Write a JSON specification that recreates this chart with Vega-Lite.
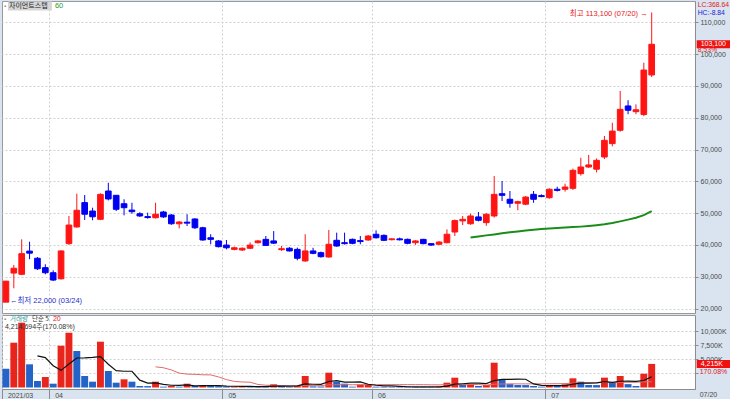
{
"$schema": "https://vega.github.io/schema/vega-lite/v6.json",
"padding": {"left": 1, "top": 0, "right": 0, "bottom": 0},
"background": "#d9e4f0",
"bounds": "flush",
"spacing": 2,
"config": {
  "view": {"fill": "#ffffff", "stroke": "#9a9a9a"},
  "axis": {"labelFont": "Liberation Sans", "labelFontSize": 7, "labelColor": "#4a4a4a", "gridColor": "#d0d0d0", "gridDash": [2, 2], "tickColor": "#8c8c8c", "domainColor": "#8c8c8c"}
},
"datasets": {"k": [
{"d":"2021-03-24","o":22000,"h":28600,"l":22000,"c":28600,"v":3360,"vc":"d"},
{"d":"2021-03-25","o":31150,"h":33700,"l":26350,"c":32650,"v":8000,"vc":"u"},
{"d":"2021-03-26","o":30750,"h":41750,"l":30500,"c":37250,"v":11570,"vc":"u"},
{"d":"2021-03-29","o":38050,"h":41000,"l":35500,"c":37400,"v":4140,"vc":"d"},
{"d":"2021-03-30","o":35800,"h":36200,"l":32100,"c":32500,"v":1160,"vc":"d","m5":5646},
{"d":"2021-03-31","o":32850,"h":33900,"l":30750,"c":31250,"v":1875,"vc":"u","m5":5349},
{"d":"2021-04-01","o":31250,"h":32000,"l":28650,"c":28950,"v":680,"vc":"d","m5":3885},
{"d":"2021-04-02","o":29350,"h":38300,"l":29100,"c":38100,"v":7460,"vc":"u","m5":3063},
{"d":"2021-04-05","o":40400,"h":49100,"l":40000,"c":46250,"v":9790,"vc":"u","m5":4193},
{"d":"2021-04-06","o":45650,"h":56100,"l":45400,"c":50900,"v":6520,"vc":"d","m5":5265},
{"d":"2021-04-07","o":53300,"h":55700,"l":47850,"c":49650,"v":2050,"vc":"d","m5":5300},
{"d":"2021-04-08","o":50650,"h":51700,"l":47750,"c":48850,"v":1040,"vc":"d","m5":5372},
{"d":"2021-04-09","o":48050,"h":56200,"l":47800,"c":55900,"v":8180,"vc":"u","m5":5516},
{"d":"2021-04-12","o":56950,"h":59550,"l":54000,"c":54450,"v":2950,"vc":"d","m5":4148},
{"d":"2021-04-13","o":55600,"h":55700,"l":50650,"c":51200,"v":860,"vc":"d","m5":3016},
{"d":"2021-04-14","o":52950,"h":54350,"l":49300,"c":51700,"v":1460,"vc":"u","m5":2898},
{"d":"2021-04-15","o":50950,"h":53250,"l":49800,"c":50450,"v":1040,"vc":"d","m5":2898},
{"d":"2021-04-16","o":49800,"h":50300,"l":48800,"c":49100,"v":270,"vc":"d","m5":1316},
{"d":"2021-04-19","o":48900,"h":50150,"l":48250,"c":48600,"v":250,"vc":"d","m5":776},
{"d":"2021-04-20","o":48550,"h":53250,"l":48300,"c":49650,"v":1040,"vc":"u","m5":816,"m20":3686},
{"d":"2021-04-21","o":50350,"h":50700,"l":48500,"c":48800,"v":150,"vc":"d","m5":550,"m20":3525},
{"d":"2021-04-22","o":49400,"h":49700,"l":46300,"c":46650,"v":270,"vc":"u","m5":400,"m20":3139},
{"d":"2021-04-23","o":46650,"h":47500,"l":45200,"c":47200,"v":150,"vc":"d","m5":376,"m20":2568},
{"d":"2021-04-26","o":47150,"h":49650,"l":45950,"c":46850,"v":680,"vc":"u","m5":458,"m20":2395},
{"d":"2021-04-27","o":48150,"h":48400,"l":45000,"c":45400,"v":270,"vc":"d","m5":304,"m20":2350},
{"d":"2021-04-28","o":45400,"h":45700,"l":41300,"c":41550,"v":300,"vc":"u","m5":334,"m20":2270},
{"d":"2021-04-29","o":42250,"h":43350,"l":40200,"c":41750,"v":270,"vc":"d","m5":334,"m20":2250},
{"d":"2021-04-30","o":41250,"h":41500,"l":39200,"c":39450,"v":240,"vc":"d","m5":352,"m20":1889},
{"d":"2021-05-03","o":39950,"h":41550,"l":38600,"c":39100,"v":150,"vc":"d","m5":246,"m20":1407},
{"d":"2021-05-04","o":38600,"h":39450,"l":38300,"c":39100,"v":170,"vc":"u","m5":220,"m20":1086},
{"d":"2021-05-06","o":38400,"h":39200,"l":38100,"c":38950,"v":190,"vc":"u","m5":204,"m20":988},
{"d":"2021-05-07","o":38950,"h":40800,"l":38700,"c":39950,"v":170,"vc":"d","m5":186,"m20":944},
{"d":"2021-05-10","o":40700,"h":41500,"l":40400,"c":41250,"v":150,"vc":"d","m5":170,"m20":542},
{"d":"2021-05-11","o":41750,"h":42800,"l":39650,"c":39850,"v":140,"vc":"d","m5":156,"m20":407},
{"d":"2021-05-12","o":41250,"h":44350,"l":40300,"c":40550,"v":570,"vc":"u","m5":238,"m20":392},
{"d":"2021-05-13","o":38500,"h":39650,"l":38100,"c":38800,"v":270,"vc":"d","m5":260,"m20":333},
{"d":"2021-05-14","o":38950,"h":39300,"l":37900,"c":38100,"v":100,"vc":"d","m5":262,"m20":286},
{"d":"2021-05-17","o":38600,"h":39150,"l":35150,"c":35800,"v":270,"vc":"u","m5":286,"m20":286},
{"d":"2021-05-18","o":34950,"h":43350,"l":34700,"c":38100,"v":2050,"vc":"u","m5":652,"m20":375},
{"d":"2021-05-20","o":38100,"h":39100,"l":37050,"c":37350,"v":200,"vc":"d","m5":578,"m20":333},
{"d":"2021-05-21","o":37550,"h":37900,"l":36000,"c":36300,"v":180,"vc":"d","m5":560,"m20":335},
{"d":"2021-05-24","o":36200,"h":44700,"l":36000,"c":40200,"v":2640,"vc":"u","m5":1068,"m20":454},
{"d":"2021-05-25","o":41450,"h":43850,"l":39400,"c":39650,"v":1040,"vc":"d","m5":1222,"m20":498},
{"d":"2021-05-26","o":40700,"h":43850,"l":40100,"c":40400,"v":680,"vc":"d","m5":948,"m20":498},
{"d":"2021-05-27","o":41750,"h":42000,"l":40200,"c":40500,"v":150,"vc":"d","m5":942,"m20":492},
{"d":"2021-05-28","o":41350,"h":42800,"l":40200,"c":41050,"v":500,"vc":"u","m5":1002,"m20":504},
{"d":"2021-05-31","o":41550,"h":43100,"l":41300,"c":42800,"v":520,"vc":"u","m5":578,"m20":515},
{"d":"2021-06-01","o":43350,"h":44600,"l":42000,"c":42250,"v":150,"vc":"d","m5":400,"m20":511},
{"d":"2021-06-02","o":43000,"h":43300,"l":41200,"c":41450,"v":140,"vc":"d","m5":302,"m20":511},
{"d":"2021-06-03","o":41650,"h":42100,"l":41400,"c":41900,"v":130,"vc":"d","m5":288,"m20":513},
{"d":"2021-06-04","o":41900,"h":42300,"l":41400,"c":41600,"v":120,"vc":"d","m5":210,"m20":513},
{"d":"2021-06-07","o":41750,"h":42000,"l":40200,"c":40500,"v":110,"vc":"d","m5":130,"m20":511},
{"d":"2021-06-08","o":40700,"h":41500,"l":40000,"c":41250,"v":100,"vc":"d","m5":120,"m20":508},
{"d":"2021-06-09","o":41750,"h":41900,"l":40200,"c":40400,"v":95,"vc":"d","m5":111,"m20":501},
{"d":"2021-06-10","o":40400,"h":40600,"l":39700,"c":39950,"v":90,"vc":"d","m5":103,"m20":478},
{"d":"2021-06-11","o":40200,"h":41200,"l":40000,"c":40900,"v":150,"vc":"u","m5":113,"m20":472},
{"d":"2021-06-14","o":40700,"h":44900,"l":40500,"c":43350,"v":860,"vc":"u","m5":259,"m20":510},
{"d":"2021-06-15","o":44050,"h":48000,"l":42800,"c":47650,"v":1750,"vc":"u","m5":589,"m20":584},
{"d":"2021-06-16","o":47550,"h":49100,"l":46250,"c":48050,"v":500,"vc":"d","m5":670,"m20":506},
{"d":"2021-06-17","o":46650,"h":49800,"l":46300,"c":49100,"v":570,"vc":"u","m5":766,"m20":525,"m60":42300},
{"d":"2021-06-18","o":48800,"h":50350,"l":47400,"c":47750,"v":270,"vc":"d","m5":790,"m20":528,"m60":42650},
{"d":"2021-06-21","o":47000,"h":50000,"l":46000,"c":49650,"v":450,"vc":"u","m5":708,"m20":419,"m60":43000},
{"d":"2021-06-22","o":49100,"h":61650,"l":48600,"c":55900,"v":4430,"vc":"u","m5":1244,"m20":588,"m60":43300},
{"d":"2021-06-23","o":56100,"h":60100,"l":53800,"c":55600,"v":1460,"vc":"d","m5":1436,"m20":627,"m60":43650},
{"d":"2021-06-24","o":54350,"h":56950,"l":51700,"c":53100,"v":600,"vc":"d","m5":1442,"m20":650,"m60":44000},
{"d":"2021-06-25","o":53100,"h":53900,"l":50900,"c":53600,"v":450,"vc":"d","m5":1478,"m20":647,"m60":44250},
{"d":"2021-06-28","o":52800,"h":55400,"l":52500,"c":55050,"v":430,"vc":"d","m5":1474,"m20":645,"m60":44500},
{"d":"2021-06-29","o":55900,"h":56950,"l":53250,"c":54350,"v":270,"vc":"d","m5":642,"m20":651,"m60":44750},
{"d":"2021-06-30","o":55500,"h":55900,"l":55000,"c":55200,"v":150,"vc":"d","m5":380,"m20":651,"m60":45000},
{"d":"2021-07-01","o":54850,"h":57800,"l":54500,"c":57500,"v":450,"vc":"u","m5":350,"m20":666,"m60":45150},
{"d":"2021-07-02","o":57500,"h":58300,"l":56800,"c":57150,"v":270,"vc":"d","m5":318,"m20":674,"m60":45300},
{"d":"2021-07-05","o":57500,"h":59250,"l":56750,"c":58200,"v":570,"vc":"u","m5":342,"m20":698,"m60":45450},
{"d":"2021-07-06","o":57800,"h":64000,"l":57300,"c":63450,"v":1640,"vc":"u","m5":616,"m20":775,"m60":45600},
{"d":"2021-07-07","o":62400,"h":67400,"l":61800,"c":64500,"v":1040,"vc":"d","m5":794,"m20":822,"m60":45750},
{"d":"2021-07-08","o":64500,"h":68300,"l":64200,"c":65150,"v":450,"vc":"d","m5":794,"m20":839,"m60":45950},
{"d":"2021-07-09","o":63800,"h":67200,"l":62800,"c":66600,"v":430,"vc":"d","m5":826,"m20":854,"m60":46200},
{"d":"2021-07-12","o":67650,"h":74250,"l":67000,"c":72900,"v":1760,"vc":"u","m5":1064,"m20":899,"m60":46500},
{"d":"2021-07-13","o":71850,"h":78400,"l":71000,"c":75800,"v":860,"vc":"d","m5":912,"m20":855,"m60":46900},
{"d":"2021-07-14","o":76050,"h":88400,"l":75600,"c":82650,"v":2050,"vc":"u","m5":1114,"m20":932,"m60":47400},
{"d":"2021-07-15","o":83700,"h":85500,"l":81100,"c":82350,"v":600,"vc":"d","m5":1144,"m20":934,"m60":47950},
{"d":"2021-07-16","o":81900,"h":84200,"l":81100,"c":82500,"v":270,"vc":"d","m5":1108,"m20":934,"m60":48550},
{"d":"2021-07-19","o":81000,"h":97300,"l":80500,"c":95000,"v":2460,"vc":"u","m5":1248,"m20":1034,"m60":49350},
{"d":"2021-07-20","o":93450,"h":113100,"l":92800,"c":103100,"v":4215,"vc":"u","m5":1919,"m20":1023,"m60":50600},
{"d":"2021-07-21"},{"d":"2021-07-22"},{"d":"2021-07-23"},{"d":"2021-07-26"},{"d":"2021-07-27"}
]},
"vconcat": [
{
  "width": 693, "height": 312,
  "data": {"name": "k"},
  "layer": [
    {"mark": {"type": "rule", "opacity": 0},
     "encoding": {"x": {"field": "d", "type": "ordinal", "title": null, "scale": {"type": "band", "paddingInner": 0, "paddingOuter": 0},
        "axis": {"orient": "bottom", "values": ["2021-04-01", "2021-05-03", "2021-06-01", "2021-07-01"], "bandPosition": 0, "labels": false, "ticks": false, "domain": false, "grid": true}}}},
    {"mark": {"type": "rule", "strokeWidth": 1},
     "encoding": {
       "x": {"field": "d", "type": "ordinal", "title": null, "scale": {"type": "band", "paddingInner": 0, "paddingOuter": 0}},
       "y": {"field": "l", "type": "quantitative", "title": null, "scale": {"domain": [18585, 116710], "nice": false, "zero": false},
          "axis": {"orient": "right", "values": [20000, 30000, 40000, 50000, 60000, 70000, 80000, 90000, 100000, 110000], "labelExpr": "format(datum.value, ',')", "grid": true, "tickSize": 3, "labelPadding": 2, "labelOverlap": false}},
       "y2": {"field": "h"},
       "color": {"condition": {"test": "datum.c >= datum.o", "value": "#ff1414"}, "value": "#0000f0"}}},
    {"mark": {"type": "bar", "width": {"band": 0.72}, "strokeWidth": 1},
     "encoding": {
       "x": {"field": "d", "type": "ordinal", "title": null, "scale": {"type": "band", "paddingInner": 0, "paddingOuter": 0}},
       "y": {"field": "o", "type": "quantitative", "title": null, "scale": {"domain": [18585, 116710], "nice": false, "zero": false},
          "axis": {"orient": "right", "values": [20000, 30000, 40000, 50000, 60000, 70000, 80000, 90000, 100000, 110000], "labelExpr": "format(datum.value, ',')", "grid": true, "tickSize": 3, "labelPadding": 2, "labelOverlap": false}},
       "y2": {"field": "c"},
       "color": {"condition": {"test": "datum.c >= datum.o", "value": "#ff1414"}, "value": "#0000f0"},
       "stroke": {"condition": {"test": "datum.c >= datum.o", "value": "#ff1414"}, "value": "#0000f0"}}},
    {"mark": {"type": "line", "color": "#1a8c1a", "strokeWidth": 2},
     "encoding": {
       "x": {"field": "d", "type": "ordinal", "title": null, "scale": {"type": "band", "paddingInner": 0, "paddingOuter": 0}},
       "y": {"field": "m60", "type": "quantitative", "title": null, "scale": {"domain": [18585, 116710], "nice": false, "zero": false},
          "axis": {"orient": "right", "values": [20000, 30000, 40000, 50000, 60000, 70000, 80000, 90000, 100000, 110000], "labelExpr": "format(datum.value, ',')", "grid": true, "tickSize": 3, "labelPadding": 2, "labelOverlap": false}}}},
    {"data": {"values": [{"d": "2021-07-20", "p": 113100, "t": "최고 113,100 (07/20) →"}]},
     "mark": {"type": "text", "align": "right", "baseline": "middle", "dx": -4, "dy": 2, "fontSize": 7.5, "font": "Liberation Sans, Noto Sans CJK KR", "color": "#e8201a"},
     "encoding": {
       "x": {"field": "d", "type": "ordinal", "title": null, "scale": {"type": "band", "paddingInner": 0, "paddingOuter": 0}},
       "y": {"field": "p", "type": "quantitative", "title": null, "scale": {"domain": [18585, 116710], "nice": false, "zero": false},
          "axis": {"orient": "right", "values": [20000, 30000, 40000, 50000, 60000, 70000, 80000, 90000, 100000, 110000], "labelExpr": "format(datum.value, ',')", "grid": true, "tickSize": 3, "labelPadding": 2, "labelOverlap": false}},
       "text": {"field": "t"}}},
    {"data": {"values": [{"d": "2021-03-24", "p": 22000, "t": "←최저 22,000 (03/24)"}]},
     "mark": {"type": "text", "align": "left", "baseline": "middle", "dx": 4, "dy": -1, "fontSize": 7.5, "font": "Liberation Sans, Noto Sans CJK KR", "color": "#1f2fc8"},
     "encoding": {
       "x": {"field": "d", "type": "ordinal", "title": null, "scale": {"type": "band", "paddingInner": 0, "paddingOuter": 0}},
       "y": {"field": "p", "type": "quantitative", "title": null, "scale": {"domain": [18585, 116710], "nice": false, "zero": false},
          "axis": {"orient": "right", "values": [20000, 30000, 40000, 50000, 60000, 70000, 80000, 90000, 100000, 110000], "labelExpr": "format(datum.value, ',')", "grid": true, "tickSize": 3, "labelPadding": 2, "labelOverlap": false}},
       "text": {"field": "t"}}},
    {"data": {"values": [{"d": "2021-03-24", "p": 115100}]},
     "encoding": {
       "x": {"field": "d", "type": "ordinal", "title": null, "scale": {"type": "band", "paddingInner": 0, "paddingOuter": 0}},
       "y": {"field": "p", "type": "quantitative", "title": null, "scale": {"domain": [18585, 116710], "nice": false, "zero": false},
          "axis": {"orient": "right", "values": [20000, 30000, 40000, 50000, 60000, 70000, 80000, 90000, 100000, 110000], "labelExpr": "format(datum.value, ',')", "grid": true, "tickSize": 3, "labelPadding": 2, "labelOverlap": false}}},
     "layer": [
       {"mark": {"type": "rule", "strokeWidth": 9, "color": "#d6d6d6", "xOffset": 2, "x2Offset": 46}, "encoding": {"x2": {"field": "d"}}},
       {"mark": {"type": "text", "text": "▪", "align": "left", "baseline": "middle", "dx": -2, "fontSize": 6, "color": "#888888"}},
       {"mark": {"type": "text", "text": "자이언트스텝", "align": "left", "baseline": "middle", "dx": 3, "fontSize": 7, "font": "Noto Sans CJK KR", "color": "#222222"}},
       {"mark": {"type": "text", "text": "60", "align": "left", "baseline": "middle", "dx": 49, "fontSize": 7.5, "font": "Liberation Sans", "color": "#2a9d2a"}}
     ]},
    {"data": {"values": [{"d": "2021-07-20", "p": 103100}]},
     "encoding": {
       "x": {"field": "d", "type": "ordinal", "title": null, "scale": {"type": "band", "paddingInner": 0, "paddingOuter": 0}},
       "y": {"field": "p", "type": "quantitative", "title": null, "scale": {"domain": [18585, 116710], "nice": false, "zero": false},
          "axis": {"orient": "right", "values": [20000, 30000, 40000, 50000, 60000, 70000, 80000, 90000, 100000, 110000], "labelExpr": "format(datum.value, ',')", "grid": true, "tickSize": 3, "labelPadding": 2, "labelOverlap": false}}},
     "layer": [
       {"mark": {"type": "rule", "strokeWidth": 8, "color": "#f01010", "xOffset": 45, "x2Offset": 80}, "encoding": {"x2": {"field": "d"}}},
       {"mark": {"type": "text", "text": "103,100", "align": "left", "baseline": "middle", "dx": 49, "fontSize": 7, "font": "Liberation Sans", "color": "#ffffff"}}
     ]},
    {"data": {"values": [{"d": "2021-07-20", "p": 101300, "t": "8.53%", "k": "a"}, {"d": "2021-07-20", "p": 115450, "t": "LC:368.64", "k": "a"}, {"d": "2021-07-20", "p": 112950, "t": "HC:-8.84", "k": "b"}]},
     "mark": {"type": "text", "align": "left", "baseline": "middle", "dx": 46, "fontSize": 6.8, "font": "Liberation Sans"},
     "encoding": {
       "x": {"field": "d", "type": "ordinal", "title": null, "scale": {"type": "band", "paddingInner": 0, "paddingOuter": 0}},
       "y": {"field": "p", "type": "quantitative", "title": null, "scale": {"domain": [18585, 116710], "nice": false, "zero": false},
          "axis": {"orient": "right", "values": [20000, 30000, 40000, 50000, 60000, 70000, 80000, 90000, 100000, 110000], "labelExpr": "format(datum.value, ',')", "grid": true, "tickSize": 3, "labelPadding": 2, "labelOverlap": false}},
       "text": {"field": "t"},
       "color": {"condition": {"test": "datum.k == 'b'", "value": "#2020d0"}, "value": "#e02020"}}}
  ]
},
{
  "width": 693, "height": 74,
  "data": {"name": "k"},
  "layer": [
    {"mark": {"type": "rule", "opacity": 0},
     "encoding": {"x": {"field": "d", "type": "ordinal", "title": null, "scale": {"type": "band", "paddingInner": 0, "paddingOuter": 0},
        "axis": {"orient": "bottom", "values": ["2021-03-24", "2021-04-01", "2021-05-03", "2021-06-01", "2021-07-01"], "bandPosition": 0, "labelExpr": "datum.value == '2021-03-24' ? '2021/03' : substring(datum.value, 5, 7)", "labelAlign": "left", "labelBaseline": "top", "labelOffset": 2, "labelPadding": -9, "tickSize": 11, "grid": true, "domain": true, "labelOverlap": false, "labelAngle": 0}}}},
    {"mark": {"type": "bar", "width": {"band": 0.88}},
     "encoding": {
       "x": {"field": "d", "type": "ordinal", "title": null, "scale": {"type": "band", "paddingInner": 0, "paddingOuter": 0}},
       "y": {"field": "v", "type": "quantitative", "title": null, "scale": {"domain": [-268, 12946], "nice": false, "zero": false},
          "axis": {"orient": "right", "values": [2500, 5000, 7500, 10000], "labelExpr": "datum.value == 2500 ? '' : format(datum.value, ',') + 'K'", "grid": true, "tickSize": 3, "labelPadding": 2, "labelOverlap": false}},
       "y2": {"datum": 0},
       "color": {"condition": {"test": "datum.vc == 'u'", "value": "#e8251d"}, "value": "#2463c8"}}},
    {"mark": {"type": "line", "color": "#e06a6a", "strokeWidth": 1},
     "encoding": {
       "x": {"field": "d", "type": "ordinal", "title": null, "scale": {"type": "band", "paddingInner": 0, "paddingOuter": 0}},
       "y": {"field": "m20", "type": "quantitative", "title": null, "scale": {"domain": [-268, 12946], "nice": false, "zero": false},
          "axis": {"orient": "right", "values": [2500, 5000, 7500, 10000], "labelExpr": "datum.value == 2500 ? '' : format(datum.value, ',') + 'K'", "grid": true, "tickSize": 3, "labelPadding": 2, "labelOverlap": false}}}},
    {"mark": {"type": "line", "color": "#111111", "strokeWidth": 1.2},
     "encoding": {
       "x": {"field": "d", "type": "ordinal", "title": null, "scale": {"type": "band", "paddingInner": 0, "paddingOuter": 0}},
       "y": {"field": "m5", "type": "quantitative", "title": null, "scale": {"domain": [-268, 12946], "nice": false, "zero": false},
          "axis": {"orient": "right", "values": [2500, 5000, 7500, 10000], "labelExpr": "datum.value == 2500 ? '' : format(datum.value, ',') + 'K'", "grid": true, "tickSize": 3, "labelPadding": 2, "labelOverlap": false}}}},
    {"data": {"values": [{"d": "2021-03-24", "p": 12250}]},
     "encoding": {
       "x": {"field": "d", "type": "ordinal", "title": null, "scale": {"type": "band", "paddingInner": 0, "paddingOuter": 0}},
       "y": {"field": "p", "type": "quantitative", "title": null, "scale": {"domain": [-268, 12946], "nice": false, "zero": false},
          "axis": {"orient": "right", "values": [2500, 5000, 7500, 10000], "labelExpr": "datum.value == 2500 ? '' : format(datum.value, ',') + 'K'", "grid": true, "tickSize": 3, "labelPadding": 2, "labelOverlap": false}}},
     "layer": [
       {"mark": {"type": "text", "text": "▪", "align": "left", "baseline": "middle", "dx": -2, "fontSize": 6, "color": "#888888"}},
       {"mark": {"type": "text", "text": "거래량", "align": "left", "baseline": "middle", "dx": 4, "fontSize": 6.5, "font": "Noto Sans CJK KR", "color": "#2e9a9a"}},
       {"mark": {"type": "text", "text": "단순 5", "align": "left", "baseline": "middle", "dx": 26, "fontSize": 6.5, "font": "Noto Sans CJK KR", "color": "#333333"}},
       {"mark": {"type": "text", "text": "20", "align": "left", "baseline": "middle", "dx": 47, "fontSize": 7, "font": "Liberation Sans", "color": "#e02020"}}
     ]},
    {"data": {"values": [{"d": "2021-03-24", "p": 10850, "t": "4,214,694주(170.08%)"}]},
     "mark": {"type": "text", "align": "left", "baseline": "middle", "dx": -1, "fontSize": 7, "font": "Liberation Sans, Noto Sans CJK KR", "color": "#333333"},
     "encoding": {
       "x": {"field": "d", "type": "ordinal", "title": null, "scale": {"type": "band", "paddingInner": 0, "paddingOuter": 0}},
       "y": {"field": "p", "type": "quantitative", "title": null, "scale": {"domain": [-268, 12946], "nice": false, "zero": false},
          "axis": {"orient": "right", "values": [2500, 5000, 7500, 10000], "labelExpr": "datum.value == 2500 ? '' : format(datum.value, ',') + 'K'", "grid": true, "tickSize": 3, "labelPadding": 2, "labelOverlap": false}},
       "text": {"field": "t"}}},
    {"data": {"values": [{"d": "2021-07-20", "p": 4215}]},
     "encoding": {
       "x": {"field": "d", "type": "ordinal", "title": null, "scale": {"type": "band", "paddingInner": 0, "paddingOuter": 0}},
       "y": {"field": "p", "type": "quantitative", "title": null, "scale": {"domain": [-268, 12946], "nice": false, "zero": false},
          "axis": {"orient": "right", "values": [2500, 5000, 7500, 10000], "labelExpr": "datum.value == 2500 ? '' : format(datum.value, ',') + 'K'", "grid": true, "tickSize": 3, "labelPadding": 2, "labelOverlap": false}}},
     "layer": [
       {"mark": {"type": "rule", "strokeWidth": 8, "color": "#f01010", "xOffset": 45, "x2Offset": 80}, "encoding": {"x2": {"field": "d"}}},
       {"mark": {"type": "text", "text": "4,215K", "align": "left", "baseline": "middle", "dx": 49, "fontSize": 7, "font": "Liberation Sans", "color": "#ffffff"}}
     ]},
    {"data": {"values": [{"d": "2021-07-20", "p": 2800, "t": "170.08%", "k": "r"}, {"d": "2021-07-20", "p": -1339, "t": "07/20", "k": "g"}]},
     "mark": {"type": "text", "align": "left", "baseline": "middle", "dx": 48, "fontSize": 7, "font": "Liberation Sans"},
     "encoding": {
       "x": {"field": "d", "type": "ordinal", "title": null, "scale": {"type": "band", "paddingInner": 0, "paddingOuter": 0}},
       "y": {"field": "p", "type": "quantitative", "title": null, "scale": {"domain": [-268, 12946], "nice": false, "zero": false},
          "axis": {"orient": "right", "values": [2500, 5000, 7500, 10000], "labelExpr": "datum.value == 2500 ? '' : format(datum.value, ',') + 'K'", "grid": true, "tickSize": 3, "labelPadding": 2, "labelOverlap": false}},
       "text": {"field": "t"},
       "color": {"condition": {"test": "datum.k == 'g'", "value": "#4a4a4a"}, "value": "#e02020"}}}
  ]
}
]
}
